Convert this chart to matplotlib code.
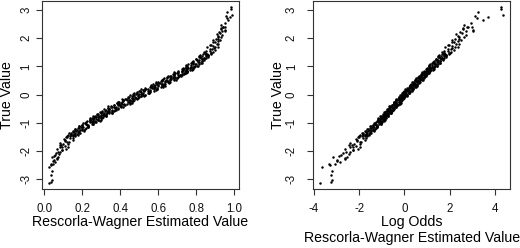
## Import libraries
import numpy as np
import matplotlib
matplotlib.use("Agg")
import matplotlib.pyplot as plt

plt.rcParams['font.family'] = ['Liberation Sans', 'DejaVu Sans']
plt.rcParams['axes.unicode_minus'] = False

## Data: true value and log odds of the Rescorla-Wagner estimate
true_value = [
    # lower tail
    -3.13, -3.10, -3.03, -2.86, -2.70, -2.56, -2.50, -2.48, -2.36, -2.33,
    -2.27, -2.23, -2.21, -2.15, -2.07, -2.03, -1.97, -1.79, -1.50,
    -2.45, -2.40, -2.30, -2.18, -2.12, -2.05, -1.92, -1.87, -1.82, -1.74,
    -1.67, -1.60,
    # -2.0 .. -1.5
    -1.98, -1.93, -1.88, -1.85, -1.80, -1.76, -1.72, -1.69, -1.65, -1.62,
    -1.59, -1.56, -1.53, -1.51,
    # -1.5 .. -1.0
    -1.49, -1.47, -1.45, -1.44, -1.42, -1.40, -1.38, -1.37, -1.35, -1.33,
    -1.31, -1.30, -1.28, -1.26, -1.25, -1.23, -1.21, -1.20, -1.18, -1.17,
    -1.15, -1.14, -1.12, -1.11, -1.09, -1.08, -1.06, -1.05, -1.03, -1.01,
    # -1.0 .. -0.5
    -1.00, -0.99, -0.98, -0.97, -0.96, -0.95, -0.94, -0.93, -0.92, -0.91,
    -0.90, -0.89, -0.88, -0.87, -0.86, -0.85, -0.84, -0.83, -0.82, -0.81,
    -0.80, -0.79, -0.78, -0.77, -0.76, -0.75, -0.74, -0.73, -0.72, -0.71,
    -0.70, -0.69, -0.68, -0.67, -0.66, -0.65, -0.64, -0.63, -0.62, -0.61,
    -0.60, -0.59, -0.58, -0.57, -0.56, -0.55, -0.54, -0.53, -0.52, -0.51,
    # -0.5 .. 0
    -0.50, -0.49, -0.48, -0.47, -0.46, -0.45, -0.44, -0.43, -0.42, -0.41,
    -0.40, -0.39, -0.38, -0.37, -0.36, -0.35, -0.34, -0.33, -0.32, -0.31,
    -0.30, -0.29, -0.28, -0.27, -0.26, -0.25, -0.24, -0.23, -0.22, -0.21,
    -0.20, -0.19, -0.18, -0.17, -0.16, -0.15, -0.14, -0.13, -0.12, -0.11,
    -0.10, -0.09, -0.08, -0.07, -0.06, -0.05, -0.04, -0.03, -0.02, -0.01,
    # 0 .. 0.5
    0.00, 0.01, 0.02, 0.03, 0.04, 0.05, 0.06, 0.07, 0.08, 0.09,
    0.10, 0.11, 0.12, 0.13, 0.14, 0.15, 0.16, 0.17, 0.18, 0.19,
    0.20, 0.21, 0.22, 0.23, 0.24, 0.25, 0.26, 0.27, 0.28, 0.29,
    0.30, 0.31, 0.32, 0.33, 0.34, 0.35, 0.36, 0.37, 0.38, 0.39,
    0.40, 0.41, 0.42, 0.43, 0.44, 0.45, 0.46, 0.47, 0.48, 0.49,
    # 0.5 .. 1.0
    0.50, 0.51, 0.52, 0.53, 0.54, 0.55, 0.56, 0.57, 0.58, 0.59,
    0.60, 0.61, 0.62, 0.63, 0.64, 0.65, 0.66, 0.67, 0.68, 0.69,
    0.70, 0.71, 0.72, 0.73, 0.74, 0.75, 0.76, 0.77, 0.78, 0.79,
    0.80, 0.81, 0.82, 0.83, 0.84, 0.85, 0.86, 0.87, 0.88, 0.89,
    0.90, 0.91, 0.92, 0.93, 0.94, 0.95, 0.96, 0.97, 0.98, 0.99,
    # 1.0 .. 1.5
    1.00, 1.02, 1.03, 1.05, 1.07, 1.08, 1.10, 1.12, 1.13, 1.15,
    1.17, 1.18, 1.20, 1.22, 1.24, 1.25, 1.27, 1.29, 1.30, 1.32,
    1.34, 1.36, 1.37, 1.39, 1.41, 1.43, 1.44, 1.46, 1.48, 1.50,
    # 1.5 .. 2.0
    1.52, 1.55, 1.58, 1.61, 1.64, 1.67, 1.70, 1.73, 1.77, 1.81,
    1.85, 1.89, 1.94, 1.98,
    1.56, 1.62, 1.68, 1.75, 1.80, 1.87, 1.92, 1.96, 2.05, 2.14,
    2.24, 2.32,
    # upper tail
    2.03, 2.08, 2.12, 2.17, 2.21, 2.27, 2.29, 2.35, 2.38, 2.41,
    2.41, 2.47, 2.55, 2.64, 2.70, 2.74, 2.79, 2.82, 2.94, 3.02,
    3.09,
    # second layer of the central band
    -1.49, -1.47, -1.45, -1.43, -1.41, -1.39, -1.37, -1.35, -1.33, -1.31,
    -1.29, -1.27, -1.25, -1.23, -1.21, -1.19, -1.17, -1.15, -1.13, -1.11,
    -1.09, -1.07, -1.05, -1.03, -1.01, -0.99, -0.97, -0.95, -0.93, -0.91,
    -0.89, -0.87, -0.85, -0.83, -0.81, -0.79, -0.77, -0.75, -0.73, -0.71,
    -0.69, -0.67, -0.65, -0.63, -0.61, -0.59, -0.57, -0.55, -0.53, -0.51,
    -0.49, -0.47, -0.45, -0.43, -0.41, -0.39, -0.37, -0.35, -0.33, -0.31,
    -0.29, -0.27, -0.25, -0.23, -0.21, -0.19, -0.17, -0.15, -0.13, -0.11,
    -0.09, -0.07, -0.05, -0.03, -0.01, 0.01, 0.03, 0.05, 0.07, 0.09,
    0.11, 0.13, 0.15, 0.17, 0.19, 0.21, 0.23, 0.25, 0.27, 0.29,
    0.31, 0.33, 0.35, 0.37, 0.39, 0.41, 0.43, 0.45, 0.47, 0.49,
    0.51, 0.53, 0.55, 0.57, 0.59, 0.61, 0.63, 0.65, 0.67, 0.69,
    0.71, 0.73, 0.75, 0.77, 0.79, 0.81, 0.83, 0.85, 0.87, 0.89,
    0.91, 0.93, 0.95, 0.97, 0.99, 1.01, 1.03, 1.05, 1.07, 1.09,
    1.11, 1.13, 1.15, 1.17, 1.19, 1.21, 1.23, 1.25, 1.27, 1.29,
    1.31, 1.33, 1.35, 1.37, 1.39, 1.41, 1.43, 1.45, 1.47, 1.49,
]

log_odds = [
    # lower tail
    -3.73, -3.24, -3.21, -3.26, -3.19, -3.66, -3.29, -3.34, -3.00, -2.97,
    -2.63, -3.15, -2.55, -2.80, -2.70, -2.40, -2.26, -2.44, -2.04,
    -3.05, -2.85, -2.62, -2.90, -2.45, -2.58, -2.05, -2.40, -2.12, -2.22,
    -1.90, -2.10,
    # -2.0 .. -1.5
    -2.28, -2.62, -2.26, -1.97, -2.33, -1.96, -2.41, -1.98, -2.08, -1.74,
    -2.16, -1.84, -1.71, -2.01,
    # -1.5 .. -1.0
    -1.72, -1.99, -1.73, -1.55, -1.82, -1.56, -1.88, -1.65, -1.46, -1.71,
    -1.73, -1.49, -1.34, -1.56, -1.38, -1.65, -1.38, -1.27, -1.52, -1.36,
    -1.22, -1.43, -1.48, -1.20, -1.24, -1.38, -1.05, -1.28, -1.10, -1.30,
    # -1.0 .. -0.5
    -1.05, -1.26, -1.09, -0.97, -1.16, -1.23, -1.00, -1.06, -1.15, -0.92,
    -1.07, -0.92, -1.16, -0.94, -0.97, -1.08, -0.83, -1.03, -0.86, -0.94,
    -0.80, -0.99, -0.85, -1.02, -0.72, -0.91, -0.78, -0.95, -0.80, -0.72,
    -0.95, -0.74, -0.81, -0.65, -0.85, -0.60, -0.79, -0.65, -0.84, -0.70,
    -0.60, -0.83, -0.54, -0.69, -0.60, -0.74, -0.52, -0.67, -0.46, -0.67,
    # -0.5 .. 0
    -0.65, -0.45, -0.69, -0.51, -0.38, -0.62, -0.49, -0.55, -0.38, -0.62,
    -0.40, -0.54, -0.30, -0.45, -0.54, -0.33, -0.26, -0.44, -0.36, -0.47,
    -0.20, -0.38, -0.43, -0.22, -0.45, -0.24, -0.18, -0.35, -0.14, -0.25,
    -0.35, -0.19, -0.10, -0.27, -0.13, -0.30, -0.02, -0.15, -0.23, -0.06,
    -0.08, -0.24, -0.01, 0.04, -0.12, 0.04, -0.16, -0.02, -0.10, 0.12,
    # 0 .. 0.5
    0.09, -0.12, 0.07, 0.00, 0.19, -0.05, 0.09, 0.20, 0.03, -0.04,
    0.23, 0.11, 0.00, 0.23, 0.32, 0.10, 0.22, 0.08, 0.32, 0.18,
    0.14, 0.38, 0.27, 0.13, 0.37, 0.34, 0.22, 0.46, 0.31, 0.41,
    0.50, 0.31, 0.27, 0.50, 0.40, 0.54, 0.29, 0.49, 0.54, 0.37,
    0.44, 0.64, 0.42, 0.55, 0.40, 0.63, 0.66, 0.50, 0.60, 0.47,
    # 0.5 .. 1.0
    0.49, 0.68, 0.77, 0.59, 0.52, 0.76, 0.68, 0.60, 0.85, 0.69,
    0.77, 0.60, 0.87, 0.79, 0.70, 0.90, 0.68, 0.89, 0.78, 0.97,
    0.77, 0.88, 1.02, 0.76, 0.96, 0.88, 1.02, 0.79, 1.04, 0.96,
    1.10, 0.88, 0.96, 1.12, 0.88, 1.10, 1.09, 1.00, 1.19, 0.99,
    1.12, 1.25, 1.00, 1.19, 1.13, 1.05, 1.32, 1.23, 1.12, 1.31,
    # 1.0 .. 1.5
    1.07, 1.35, 1.44, 1.22, 1.34, 1.13, 1.49, 1.29, 1.58, 1.29,
    1.48, 1.29, 1.59, 1.69, 1.42, 1.61, 1.38, 1.74, 1.56, 1.83,
    1.51, 1.76, 1.49, 1.84, 1.76, 1.65, 1.99, 1.73, 1.99, 1.68,
    # 1.5 .. 2.0
    2.07, 1.75, 2.21, 1.91, 2.11, 1.80, 2.35, 2.10, 1.94, 2.41,
    2.10, 2.39, 2.09, 2.41,
    1.95, 2.05, 2.22, 1.98, 2.30, 2.18, 2.50, 2.25, 2.40, 2.30,
    2.72, 2.58,
    # upper tail
    2.62, 2.35, 2.71, 2.53, 2.45, 3.02, 3.05, 2.61, 2.78, 2.98,
    2.83, 2.64, 2.95, 3.49, 3.23, 3.71, 3.12, 4.34, 3.27, 4.29,
    4.27,
    # second layer of the central band
    -1.66, -1.87, -1.95, -1.64, -1.70, -1.83, -1.51, -1.83, -1.54, -1.61,
    -1.68, -1.34, -1.46, -1.63, -1.31, -1.49, -1.40, -1.21, -1.51, -1.21,
    -1.22, -1.39, -1.05, -1.28, -1.36, -1.02, -1.09, -1.14, -0.88, -1.16,
    -0.85, -1.06, -1.15, -0.85, -0.91, -1.04, -0.73, -1.06, -0.77, -0.85,
    -0.92, -0.58, -0.71, -0.89, -0.58, -0.75, -0.67, -0.49, -0.79, -0.50,
    -0.51, -0.69, -0.35, -0.59, -0.68, -0.33, -0.40, -0.46, -0.19, -0.47,
    -0.16, -0.37, -0.46, -0.16, -0.22, -0.35, -0.04, -0.36, -0.08, -0.16,
    -0.22, 0.11, -0.02, -0.20, 0.12, -0.06, 0.03, 0.21, -0.10, 0.20,
    0.19, 0.02, 0.35, 0.11, 0.03, 0.37, 0.31, 0.25, 0.51, 0.24,
    0.55, 0.34, 0.25, 0.55, 0.49, 0.36, 0.68, 0.35, 0.63, 0.56,
    0.49, 0.83, 0.70, 0.53, 0.84, 0.67, 0.75, 0.94, 0.63, 0.93,
    0.92, 0.75, 1.08, 0.85, 0.76, 1.10, 1.04, 0.98, 1.25, 0.97,
    1.29, 1.07, 0.99, 1.29, 1.23, 1.10, 1.42, 1.09, 1.38, 1.30,
    1.24, 1.57, 1.45, 1.27, 1.59, 1.41, 1.50, 1.69, 1.38, 1.68,
    1.67, 1.50, 1.83, 1.60, 1.51, 1.86, 1.79, 1.74, 2.00, 1.73,
]

## Back to the probability scale for the left panel
log_odds = np.array(log_odds)
rw_estimate = 1 / (1 + np.exp(-log_odds))

x_ticks_left = [0.0, 0.2, 0.4, 0.6, 0.8, 1.0]
x_ticks_right = [-4, -2, 0, 2, 4]
y_ticks = [-3, -2, -1, 0, 1, 2, 3]


def style_axes(ax, ypad):
    for s in ax.spines.values():
        s.set_color('#333333')
        s.set_linewidth(0.8)
    ax.set_yticks(y_ticks)
    ax.set_yticklabels([str(t) for t in y_ticks], rotation=90, va='center')
    ax.tick_params(axis='both', direction='out', length=4, width=0.8,
                   color='#333333', labelsize=8.3, labelcolor='#111111')
    ax.tick_params(axis='x', pad=6)
    ax.tick_params(axis='y', pad=ypad)
    ax.set_ylim(-3.355, 3.32)
    ax.set_ylabel('True Value', fontsize=10.2, va='center')
    ax.yaxis.set_label_coords(-0.177, 0.5)


## Plot the two panels
fig = plt.figure(figsize=(5.2, 2.48), dpi=100)
ax1 = fig.add_axes([0.0808, 0.2379, 0.3788, 0.758])
ax2 = fig.add_axes([0.6019, 0.2379, 0.3798, 0.758])

ax1.scatter(rw_estimate, true_value, s=3.2, color='black', linewidths=0)
ax1.set_xlim(-0.012, 1.026)
ax1.set_xticks(x_ticks_left)
ax1.set_xticklabels(['%.1f' % t for t in x_ticks_left])
style_axes(ax1, 3)
ax1.set_xlabel('Rescorla-Wagner Estimated Value', fontsize=10.2, va='top')
ax1.xaxis.set_label_coords(0.5, -0.14)

ax2.scatter(log_odds, true_value, s=3.2, color='black', linewidths=0)
ax2.set_xlim(-4.04, 4.69)
ax2.set_xticks(x_ticks_right)
ax2.set_xticklabels([str(t) for t in x_ticks_right])
style_axes(ax2, 7)
ax2.set_xlabel('Log Odds\nRescorla-Wagner Estimated Value', fontsize=10.2,
               va='top', linespacing=1.15)
ax2.xaxis.set_label_coords(0.5, -0.14)

fig.savefig('out.png', dpi=100)
